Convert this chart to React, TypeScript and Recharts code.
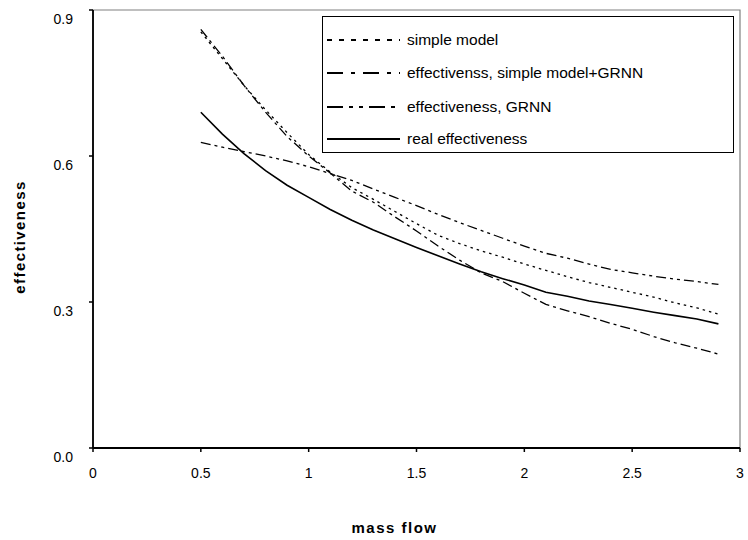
import { LineChart, Line, XAxis, YAxis, ReferenceArea } from 'recharts';

const massFlow = [0.5, 0.6, 0.7, 0.8, 0.9, 1.0, 1.1, 1.2, 1.3, 1.4, 1.5, 1.6, 1.7, 1.8, 1.9, 2.0, 2.1, 2.2, 2.3, 2.4, 2.5, 2.6, 2.7, 2.8, 2.9];
const simpleModel = [0.855, 0.8, 0.745, 0.695, 0.648, 0.603, 0.567, 0.535, 0.511, 0.486, 0.461, 0.437, 0.42, 0.405, 0.392, 0.378, 0.365, 0.352, 0.34, 0.33, 0.32, 0.31, 0.298, 0.288, 0.275];
const simpleGrnn = [0.86, 0.805, 0.745, 0.69, 0.64, 0.6, 0.565, 0.528, 0.505, 0.475, 0.446, 0.415, 0.386, 0.36, 0.342, 0.318, 0.295, 0.282, 0.27, 0.256, 0.244, 0.229, 0.216, 0.205, 0.193];
const grnn = [0.628, 0.618, 0.609, 0.6, 0.59, 0.578, 0.564, 0.55, 0.532, 0.515, 0.498, 0.48, 0.463, 0.447, 0.431, 0.415, 0.4, 0.39, 0.378, 0.367, 0.36, 0.353, 0.347, 0.342, 0.336];
const real = [0.69, 0.645, 0.605, 0.57, 0.54, 0.515, 0.49, 0.468, 0.448, 0.43, 0.412, 0.395, 0.378, 0.362, 0.348, 0.335, 0.32, 0.312, 0.302, 0.295, 0.287, 0.279, 0.272, 0.265, 0.255];

const xTicks = [0, 0.5, 1, 1.5, 2, 2.5, 3];
const yTicks = [0, 0.3, 0.6, 0.9];

const data = massFlow.map((m, i) => ({
  m,
  simple: simpleModel[i],
  simpleGrnn: simpleGrnn[i],
  grnn: grnn[i],
  real: real[i],
}));

const series = [
  { key: 'simple', name: 'simple model', dash: '2.5 4', legendDash: '5 7', width: 1.3 },
  { key: 'simpleGrnn', name: 'effectivenss, simple model+GRNN', dash: '10 4 3 4', legendDash: '16 8 4 8', width: 1.3 },
  { key: 'grnn', name: 'effectiveness, GRNN', dash: '10 4 3 4 3 4', legendDash: '16 6 4 6 4 6', width: 1.3 },
  { key: 'real', name: 'real effectiveness', dash: undefined, legendDash: undefined, width: 1.6 },
];

const font = '"Liberation Sans", Arial, sans-serif';

const YTick = (props: any) => {
  const { x, y, payload } = props;
  return (
    <text x={x} y={y + 9} dy="0.355em" textAnchor="end" fill="#000" fontSize={14} fontFamily={font}>
      {Number(payload.value).toFixed(1)}
    </text>
  );
};

const XTick = (props: any) => {
  const { x, y, payload } = props;
  return (
    <text x={x} y={y} dy="0.71em" textAnchor="middle" fill="#000" fontSize={14} fontFamily={font}>
      {String(payload.value)}
    </text>
  );
};

const YLabel = (props: any) => {
  const vb = props.viewBox || { x: 0, y: 10, width: 93, height: 438 };
  const cx = vb.x + 20;
  const cy = vb.y + vb.height / 2 + 8;
  return (
    <text
      x={cx}
      y={cy}
      transform={`rotate(-90 ${cx} ${cy})`}
      textAnchor="middle"
      dy="0.355em"
      fill="#000"
      fontSize={15}
      fontWeight="bold"
      letterSpacing={1.4}
      fontFamily={font}
    >
      effectiveness
    </text>
  );
};

const XLabel = (props: any) => {
  const vb = props.viewBox || { x: 93, y: 448, width: 647, height: 92 };
  return (
    <text
      x={vb.x + vb.width / 2 - 22}
      y={vb.y + 85}
      textAnchor="middle"
      fill="#000"
      fontSize={15}
      fontWeight="bold"
      letterSpacing={1.5}
      fontFamily={font}
    >
      mass flow
    </text>
  );
};

// legend box drawn as plain html over the plot
const LegendBox = () => (
  <div
    style={{
      position: 'absolute',
      left: 322,
      top: 16,
      width: 412,
      height: 137,
      border: '1.8px solid #000',
      background: '#fff',
      boxSizing: 'border-box',
      fontFamily: font,
      fontSize: 15.5,
      color: '#000',
    }}
  >
    {series.map((s, i) => (
      <div
        key={s.key}
        style={{ position: 'absolute', left: 0, top: [23, 56, 90, 122][i] - 12, height: 24, display: 'flex', alignItems: 'center' }}
      >
        <svg width={80} height={10} style={{ marginLeft: 4 }}>
          <line x1={0} y1={5} x2={73} y2={5} stroke="#000" strokeWidth={1.8} strokeDasharray={s.legendDash} />
        </svg>
        <span style={{ marginLeft: 0 }}>{s.name}</span>
      </div>
    ))}
  </div>
);

const App = () => (
  <div style={{ position: 'absolute', left: 0, top: 0, width: 748, height: 540, background: '#fff' }}>
    <LineChart width={748} height={540} data={data} margin={{ top: 10, right: 8, left: 0, bottom: 0 }}>
      <ReferenceArea x1={0} x2={3} y1={0} y2={0.9} fill="none" stroke="#808080" strokeWidth={1.2} />
      <XAxis
        type="number"
        dataKey="m"
        domain={[0, 3]}
        ticks={xTicks}
        height={92}
        tickSize={4}
        tickMargin={16}
        axisLine={{ stroke: '#000', strokeWidth: 1.8 }}
        tickLine={{ stroke: '#000', strokeWidth: 1.5 }}
        tick={<XTick />}
        label={<XLabel />}
      />
      <YAxis
        type="number"
        domain={[0, 0.9]}
        ticks={yTicks}
        width={93}
        tickSize={4}
        tickMargin={16}
        axisLine={{ stroke: '#000', strokeWidth: 1.8 }}
        tickLine={{ stroke: '#000', strokeWidth: 1.5 }}
        tick={<YTick />}
        label={<YLabel />}
      />
      {series.map((s) => (
        <Line
          key={s.key}
          type="linear"
          dataKey={s.key}
          name={s.name}
          stroke="#000"
          strokeWidth={s.width}
          strokeDasharray={s.dash}
          dot={false}
          isAnimationActive={false}
        />
      ))}
    </LineChart>
    <LegendBox />
  </div>
);

export default App;
